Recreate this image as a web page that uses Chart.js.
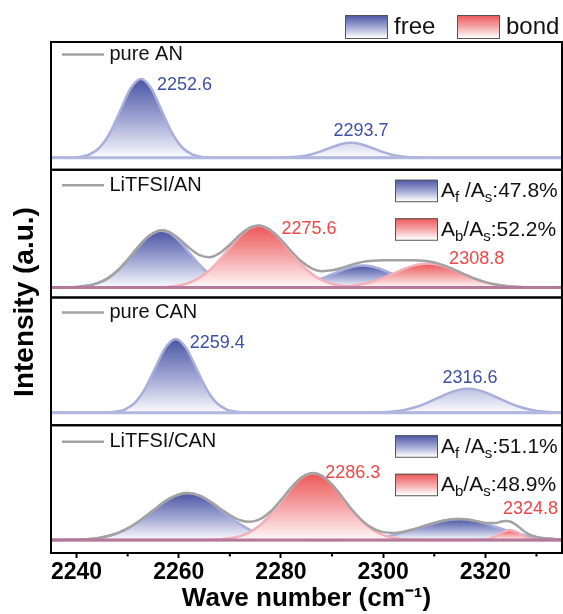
<!DOCTYPE html>
<html><head><meta charset="utf-8">
<script src="https://cdn.jsdelivr.net/npm/chart.js@4.4.1/dist/chart.umd.min.js"></script>
<style>html,body{margin:0;padding:0;background:#fff;}canvas{display:block;}</style>
</head><body>
<canvas id="c" width="563" height="614"></canvas>
<script>
// ================= DATA =================
const waveTicks = [2240, 2260, 2280, 2300, 2320];
const waveMinorTicks = [2250, 2270, 2290, 2310, 2330];
const waveRange = [2235, 2335];
const panelNames = ['pure AN', 'LiTFSI/AN', 'pure CAN', 'LiTFSI/CAN'];
const areaFree = [null, '47.8%', null, '51.1%'];
const areaBond = [null, '52.2%', null, '48.9%'];
const peakLabels = [[2252.6, 2293.7], [2275.6, 2308.8], [2259.4, 2316.6], [2286.3, 2324.8]];

// pure AN
const pureAN_free1 = [[2235,0],[2239.6,0.4],[2241.6,1.8],[2242.6,3.5],[2244.6,10.7],[2246.6,25.7],[2248.6,47.9],[2250.6,69.7],[2252.6,79],[2254.6,69.7],[2256.6,47.9],[2258.6,25.7],[2260.6,10.7],[2262.6,3.5],[2263.6,1.8],[2265.6,0.4],[2270,0],[2335,0]];
const pureAN_free2 = [[2235,0],[2278,0],[2280.7,0.2],[2283.7,1.3],[2285.7,3.1],[2287.7,6.2],[2289.7,10.1],[2291.7,13.6],[2293.7,15],[2295.7,13.6],[2297.7,10.1],[2299.7,6.2],[2301.7,3.1],[2303.7,1.3],[2306.7,0.2],[2310,0],[2335,0]];
// LiTFSI/AN
const litAN_free1 = [[2235,0],[2236,0.1],[2238,0.2],[2240,0.6],[2242,1.7],[2244,4.1],[2246,8.9],[2248,16.8],[2250,27.7],[2252,40.2],[2254,51.0],[2256,56.7],[2256.6,57],[2258,55.2],[2260,47.1],[2262,35.2],[2264,23.1],[2266,13.2],[2268,6.7],[2270,2.9],[2272,1.1],[2274,0.4],[2276,0.1],[2278,0],[2335,0]];
const litAN_bond1 = [[2235,0],[2252,0],[2254,0.1],[2256,0.3],[2258,0.8],[2260,2.1],[2262,4.7],[2264,9.6],[2266,17.2],[2268,27.8],[2270,40.1],[2272,51.8],[2274,59.8],[2275.6,62],[2276,61.9],[2278,57.2],[2280,47.4],[2282,35.1],[2284,23.3],[2286,13.8],[2288,7.3],[2290,3.5],[2292,1.5],[2294,0.6],[2296,0.2],[2298,0],[2335,0]];
const litAN_free2 = [[2235,0],[2276,0],[2278,0.2],[2280,0.6],[2282,1.4],[2284,3.0],[2286,5.5],[2288,9.0],[2290,13.3],[2292,17.6],[2294,20.8],[2296,22],[2298,20.8],[2300,17.6],[2302,13.3],[2304,9.0],[2306,5.5],[2308,3.0],[2310,1.4],[2312,0.6],[2314,0.2],[2316,0],[2335,0]];
const litAN_bond2 = [[2235,0],[2286,0],[2288,0.1],[2290,0.4],[2292,0.8],[2294,1.8],[2296,3.5],[2298,6.0],[2300,9.6],[2302,13.9],[2304,18.3],[2306,21.9],[2308,23.8],[2308.8,24],[2310,23.6],[2312,21.3],[2314,17.4],[2316,13.0],[2318,8.8],[2320,5.4],[2322,3.1],[2324,1.6],[2326,0.7],[2328,0.3],[2330,0.1],[2332,0],[2335,0]];
const litAN_sum = [[2235,0],[2236,0.1],[2238,0.2],[2240,0.6],[2242,1.7],[2244,4.1],[2246,8.9],[2248,16.8],[2250,27.7],[2252,40.2],[2254,51.1],[2256,57.0],[2256.6,57.4],[2258,56.0],[2260,49.2],[2262,39.9],[2264,32.7],[2266,30.4],[2268,34.5],[2270,43.0],[2272,52.9],[2274,60.2],[2275.6,62.2],[2276,62.0],[2278,57.4],[2280,48.0],[2282,36.5],[2284,26.3],[2286,19.3],[2288,16.4],[2290,17.2],[2292,19.9],[2294,23.2],[2296,25.7],[2298,26.8],[2300,27.2],[2302,27.2],[2304,27.3],[2306,27.4],[2308,26.8],[2310,25.0],[2312,21.9],[2314,17.6],[2316,13.0],[2318,8.8],[2320,5.4],[2322,3.1],[2324,1.6],[2326,0.7],[2328,0.3],[2330,0.1],[2332,0],[2335,0]];
// pure CAN
const pureCAN_free1 = [[2235,0],[2244,0],[2246.4,0.4],[2248.4,1.7],[2249.4,3.2],[2251.4,10.0],[2253.4,24.0],[2255.4,44.9],[2257.4,65.3],[2259.4,74],[2261.4,65.3],[2263.4,44.9],[2265.4,24.0],[2267.4,10.0],[2269.4,3.2],[2270.4,1.7],[2272.4,0.4],[2276,0],[2335,0]];
const pureCAN_free2 = [[2235,0],[2292,0],[2296.6,0.1],[2300.6,0.7],[2303.6,2.3],[2306.6,6.0],[2308.6,9.9],[2310.6,14.6],[2312.6,19.2],[2314.6,22.7],[2316.6,24],[2318.6,22.7],[2320.6,19.2],[2322.6,14.6],[2324.6,9.9],[2326.6,6.0],[2329.6,2.3],[2332.6,0.7],[2335,0.2]];
// LiTFSI/CAN
const litCAN_free1 = [[2235,0],[2236,0.1],[2238,0.2],[2240,0.4],[2242,0.9],[2244,1.9],[2246,3.8],[2248,6.9],[2250,11.6],[2252,18.0],[2254,25.7],[2256,33.7],[2258,40.9],[2260,45.6],[2261.7,47],[2264,44.5],[2266,38.9],[2268,31.3],[2270,23.3],[2272,15.9],[2274,10.0],[2276,5.8],[2278,3.1],[2280,1.5],[2282,0.7],[2284,0.3],[2286,0.1],[2288,0],[2335,0]];
const litCAN_bond1 = [[2235,0],[2262,0],[2264,0.1],[2266,0.2],[2268,0.6],[2270,1.7],[2272,3.9],[2274,8.2],[2276,15.3],[2278,25.7],[2280,38.6],[2282,51.8],[2284,62.3],[2286.3,67],[2288,64.4],[2290,55.4],[2292,42.7],[2294,29.4],[2296,18.1],[2298,10.0],[2300,4.9],[2302,2.2],[2304,0.9],[2306,0.3],[2308,0.1],[2310,0],[2335,0]];
const litCAN_free2 = [[2235,0],[2288,0],[2290,0.1],[2292,0.2],[2294,0.4],[2296,0.9],[2298,1.7],[2300,3.0],[2302,4.9],[2304,7.4],[2306,10.6],[2308,13.9],[2310,17.1],[2312,19.6],[2314.8,21],[2316,20.7],[2318,19.2],[2320,16.5],[2322,13.2],[2324,9.9],[2326,6.9],[2328,4.5],[2330,2.7],[2332,1.5],[2334,0.8],[2335,0.6]];
const litCAN_bond2 = [[2235,0],[2317,0],[2319,0.15],[2320,0.6],[2321,1.6],[2322,3.8],[2323,6.7],[2324,9.2],[2324.8,10],[2326,8.4],[2327,5.5],[2328,2.8],[2329,1.1],[2330,0.3],[2331,0.1],[2332,0],[2335,0]];
const litCAN_sum = [[2235,0],[2236,0.1],[2238,0.2],[2240,0.4],[2242,0.9],[2244,1.9],[2246,3.8],[2248,6.9],[2250,11.6],[2252,18.0],[2254,25.7],[2256,33.7],[2258,40.9],[2260,45.6],[2261.7,47.0],[2264,44.6],[2266,39.1],[2268,31.9],[2270,25.0],[2272,19.8],[2274,18.2],[2276,21.1],[2278,28.8],[2280,40.1],[2282,52.5],[2284,62.6],[2286.3,67.1],[2288,64.4],[2290,55.5],[2292,42.9],[2294,29.8],[2296,19.0],[2298,11.7],[2300,7.9],[2302,7.1],[2304,8.3],[2306,10.9],[2308,14.0],[2310,17.1],[2312,19.6],[2314.8,21.0],[2316,20.7],[2318,19.2],[2320,17.1],[2322,17.0],[2323,18.3],[2324,19.1],[2325,18.3],[2326,15.3],[2327,11.1],[2328,7.3],[2330,3.0],[2332,1.5],[2334,0.8],[2335,0.6]];

// ================= STRUCTURE / STYLE =================
const panelCurves = [
  [{kind:'free', data:pureAN_free1}, {kind:'free', data:pureAN_free2}],
  [{kind:'free', data:litAN_free1}, {kind:'bond', data:litAN_bond1}, {kind:'free', data:litAN_free2}, {kind:'bond', data:litAN_bond2}, {kind:'sum', data:litAN_sum}],
  [{kind:'free', data:pureCAN_free1}, {kind:'free', data:pureCAN_free2}],
  [{kind:'free', data:litCAN_free1}, {kind:'bond', data:litCAN_bond1}, {kind:'free', data:litCAN_free2}, {kind:'bond', data:litCAN_bond2}, {kind:'sum', data:litCAN_sum}]
];
const panelYMin = [-12, -10, -12.5, -13];
const panelYMax = [116, 118, 115.5, 115];
const FONT = "'Liberation Sans', Arial, Helvetica, sans-serif";
const STYLE = {
  free: {stroke:'#a9afdb', top:'#4a55a3', mid:'#9da3d2', bottom:'#fbfbfe', text:'#3c50a6', order:2},
  bond: {stroke:'#f4b0ba', top:'#ec5656', mid:'#f5a4a6', bottom:'#fff8f8', text:'#ef4646', order:1},
  sum:  {stroke:'#a2a2a2', order:0}
};
const baselineColors = ['#b2b7df', '#b4789a', '#b2b7df', '#b4789a'];
const legendLineOffset = [12.5, 15.5, 15, 16.5];
const peakLabelPlacement = [
  [{align:'left', dx:16, dy:6}, {align:'center', dx:10, dy:-11.5}],
  [{align:'left', dx:23, dy:3}, {align:'left', dx:21, dy:-4.5}],
  [{align:'left', dx:14, dy:4.5}, {align:'center', dx:2, dy:-11}],
  [{align:'left', dx:12, dy:0}, {align:'left', dx:-7, dy:-21}]
];

function gradientFor(chart, sid, ref, st) {
  const s = chart.scales[sid];
  if (!chart.chartArea || !s) return st.mid;
  const y0 = s.getPixelForValue(ref), y1 = s.getPixelForValue(0);
  if (!isFinite(y0) || !isFinite(y1) || y1 - y0 < 1) return st.mid;
  const g = chart.ctx.createLinearGradient(0, y0, 0, y1);
  g.addColorStop(0, st.top); g.addColorStop(0.5, st.mid); g.addColorStop(1, st.bottom);
  return g;
}

const datasets = [];
panelCurves.forEach((curves, p) => {
  const pure = !curves.some(c => c.kind === 'sum');
  const panelMax = Math.max(...curves.flatMap(c => c.data.map(d => d[1])));
  curves.forEach(c => {
    const st = STYLE[c.kind];
    const ownMax = Math.max(...c.data.map(d => d[1]));
    const ref = pure ? panelMax : ownMax;
    datasets.push({
      data: c.data.map(([x, y]) => ({x, y})),
      xAxisID: 'x', yAxisID: 'y' + p,
      borderColor: st.stroke, borderWidth: 2.5,
      pointRadius: 0, pointHoverRadius: 0,
      cubicInterpolationMode: 'monotone',
      fill: c.kind === 'sum' ? false : 'origin',
      backgroundColor: c.kind === 'sum' ? 'rgba(0,0,0,0)' : (ctx) => gradientFor(ctx.chart, 'y' + p, ref, st),
      order: st.order
    });
  });
});

const scales = {
  x: {
    type: 'linear', position: 'bottom', min: waveRange[0], max: waveRange[1],
    afterBuildTicks: (axis) => { axis.ticks = waveTicks.map(v => ({value: v})); },
    afterFit: (axis) => { axis.height = 61; },
    ticks: {padding: 1, color: '#000', font: {family: FONT, size: 23, weight: 'bold'}, maxRotation: 0, autoSkip: false,
            callback: (v) => String(v)},
    grid: {display: true, drawOnChartArea: false, drawTicks: true, tickLength: 5, tickWidth: 2, tickColor: '#000'},
    border: {display: false},
    title: {display: true, text: 'Wave number (cm⁻¹)', color: '#000', font: {family: FONT, size: 26, weight: 'bold'}, padding: {top: 0, bottom: 0}}
  }
};
panelNames.forEach((n, p) => {
  scales['y' + p] = {
    type: 'linear', position: 'left', stack: 'panels', stackWeight: 1, weight: 4 - p,
    min: panelYMin[p], max: panelYMax[p], display: true,
    ticks: {display: false}, grid: {display: false, drawTicks: false}, border: {display: false}
  };
});

function gradBox(ctx, x, y, w, h, st) {
  const g = ctx.createLinearGradient(0, y, 0, y + h);
  g.addColorStop(0, st.top); g.addColorStop(0.5, st.mid); g.addColorStop(1, '#ffffff');
  ctx.fillStyle = g; ctx.fillRect(x, y, w, h);
  ctx.strokeStyle = '#555'; ctx.lineWidth = 1; ctx.strokeRect(x + 0.5, y + 0.5, w, h);
}
function richText(ctx, x, y, parts, size, subSize) {
  ctx.textAlign = 'left'; ctx.textBaseline = 'alphabetic'; ctx.fillStyle = '#111';
  parts.forEach(([t, sub]) => {
    ctx.font = (sub ? subSize : size) + 'px ' + FONT;
    ctx.fillText(t, x, y + (sub ? 5 : 0));
    x += ctx.measureText(t).width;
  });
}

const decor = {
  id: 'decor',
  afterDatasetsDraw(chart) {
    const {ctx, chartArea: ca} = chart;
    ctx.save();
    panelNames.forEach((_, p) => {
      const y = chart.scales['y' + p].getPixelForValue(0);
      ctx.strokeStyle = baselineColors[p]; ctx.lineWidth = 3;
      ctx.beginPath(); ctx.moveTo(ca.left, y); ctx.lineTo(ca.right, y); ctx.stroke();
    });
    ctx.restore();
  },
  afterDraw(chart) {
    const {ctx, chartArea: ca} = chart;
    const xs = chart.scales.x;
    ctx.save();
    // frames
    ctx.strokeStyle = '#000'; ctx.lineWidth = 2;
    panelNames.forEach((_, p) => {
      const s = chart.scales['y' + p];
      ctx.strokeRect(ca.left, s.top, ca.right - ca.left, s.bottom - s.top);
    });
    // minor ticks
    waveMinorTicks.forEach(v => {
      const x = xs.getPixelForValue(v);
      ctx.beginPath(); ctx.moveTo(x, ca.bottom); ctx.lineTo(x, ca.bottom + 3.5); ctx.stroke();
    });
    // panel legends, peak labels, area legends
    panelNames.forEach((name, p) => {
      const s = chart.scales['y' + p];
      const ly = s.top + legendLineOffset[p];
      ctx.strokeStyle = STYLE.sum.stroke; ctx.lineWidth = 2.5;
      ctx.beginPath(); ctx.moveTo(62, ly); ctx.lineTo(104, ly); ctx.stroke();
      ctx.fillStyle = '#111'; ctx.font = '20px ' + FONT; ctx.textAlign = 'left'; ctx.textBaseline = 'middle';
      ctx.fillText(name, 109.5, ly);

      const comps = panelCurves[p].filter(c => c.kind !== 'sum');
      peakLabels[p].forEach((w, k) => {
        let best = null, bd = Infinity;
        comps.forEach(c => {
          const m = c.data.reduce((a, d) => d[1] > a[1] ? d : a, c.data[0]);
          const dd = Math.abs(m[0] - w);
          if (dd < bd) { bd = dd; best = {c, m}; }
        });
        const pl = peakLabelPlacement[p][k];
        const px = xs.getPixelForValue(w), py = s.getPixelForValue(best.m[1]);
        ctx.fillStyle = STYLE[best.c.kind].text; ctx.font = '18px ' + FONT;
        ctx.textAlign = pl.align; ctx.textBaseline = 'middle';
        ctx.fillText(w.toFixed(1), px + pl.dx, py + pl.dy);
      });

      if (areaFree[p]) {
        const t = s.top;
        gradBox(ctx, 395, t + 10, 42, 21.5, STYLE.free);
        gradBox(ctx, 395, t + 48.5, 42, 21.5, STYLE.bond);
        richText(ctx, 441, t + 27.5, [['A', 0], ['f', 1], [' /A', 0], ['s', 1], [':' + areaFree[p], 0]], 21, 15);
        richText(ctx, 441, t + 66, [['A', 0], ['b', 1], ['/A', 0], ['s', 1], [':' + areaBond[p], 0]], 21, 15);
      }
    });
    // top legend
    gradBox(ctx, 345, 15, 42, 23, STYLE.free);
    gradBox(ctx, 457, 15, 42, 23, STYLE.bond);
    ctx.fillStyle = '#111'; ctx.font = '24px ' + FONT; ctx.textAlign = 'left'; ctx.textBaseline = 'middle';
    ctx.fillText('free', 394, 27);
    ctx.fillText('bond', 506, 27);
    // y title
    ctx.translate(33, 302); ctx.rotate(-Math.PI / 2);
    ctx.fillStyle = '#000'; ctx.font = 'bold 28px ' + FONT; ctx.textAlign = 'center'; ctx.textBaseline = 'alphabetic';
    ctx.fillText('Intensity (a.u.)', 0, 0);
    ctx.restore();
  }
};

new Chart(document.getElementById('c'), {
  type: 'line',
  data: {datasets},
  options: {
    responsive: false, animation: false, devicePixelRatio: 1,
    layout: {padding: {left: 51, right: 1, top: 42, bottom: 0}},
    plugins: {legend: {display: false}, tooltip: {enabled: false}},
    scales
  },
  plugins: [decor]
});
</script>
</body></html>
